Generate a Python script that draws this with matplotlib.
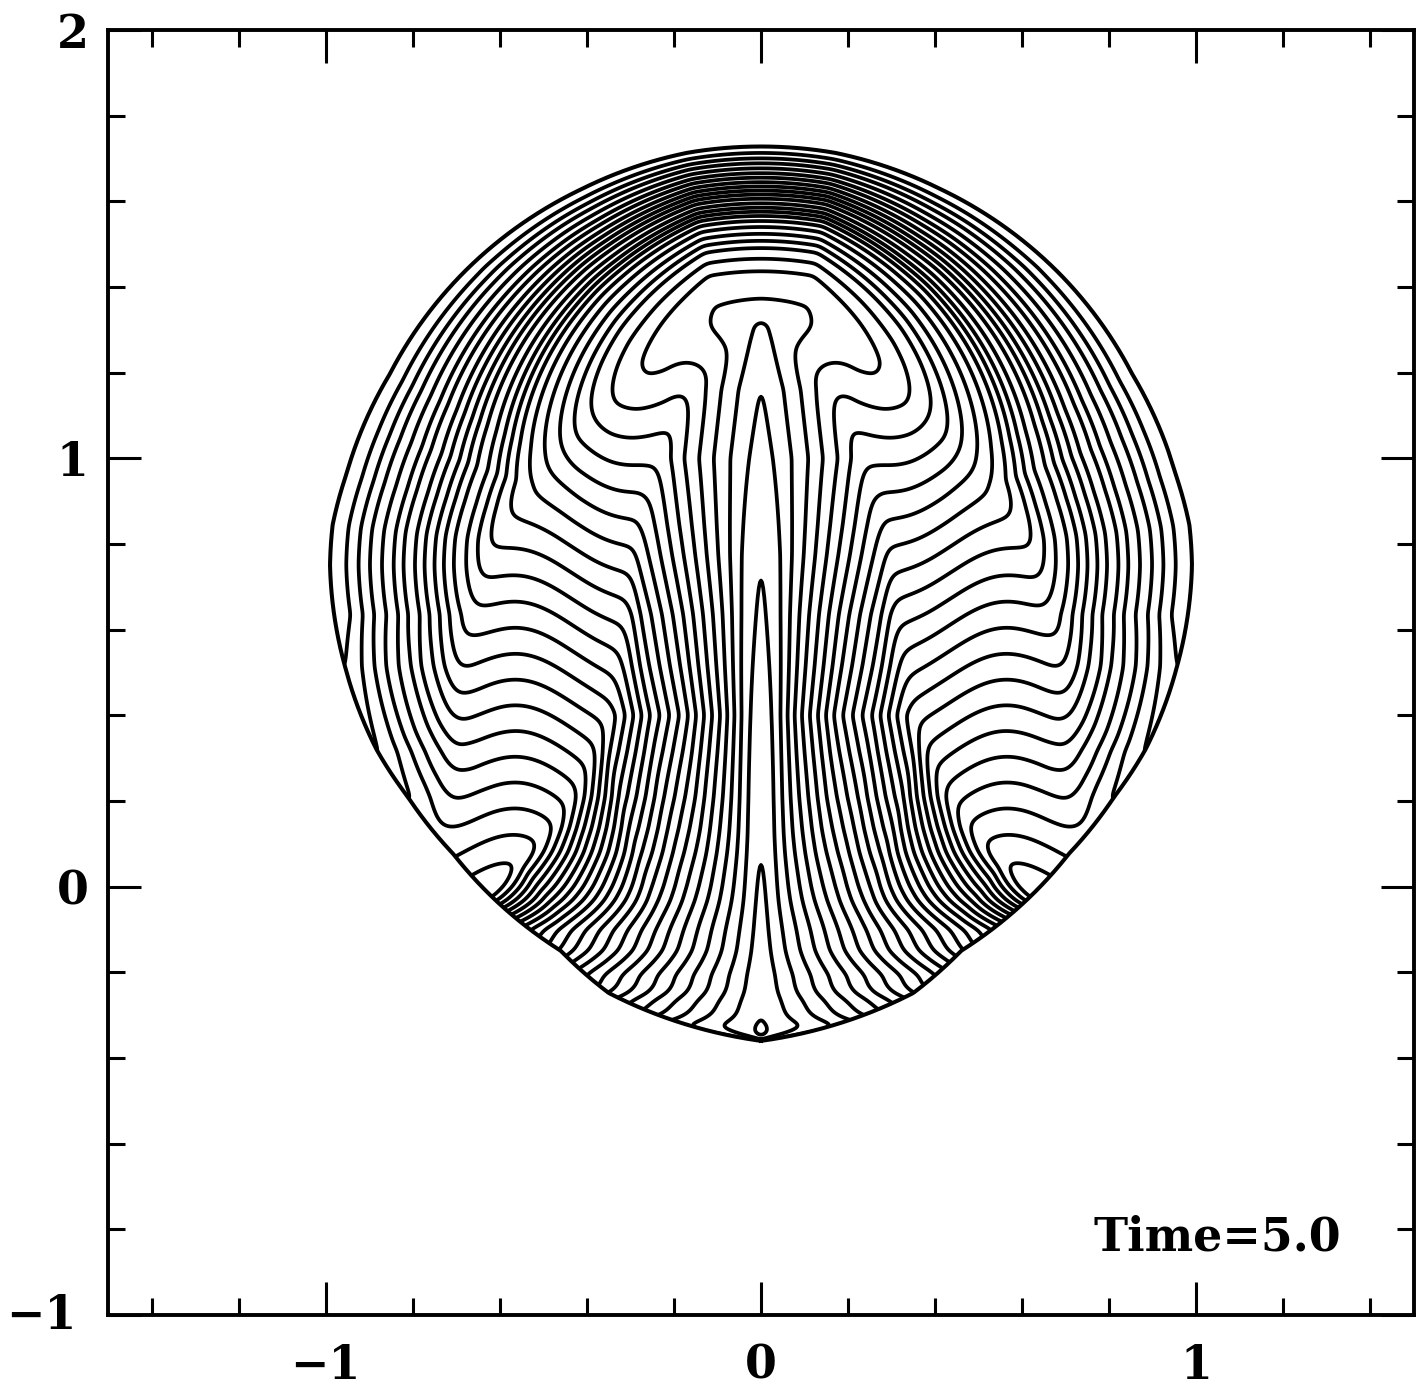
import numpy as np
import matplotlib.pyplot as plt
import matplotlib.transforms as mtrans
from matplotlib.path import Path
from matplotlib.patches import PathPatch

# outline of the blob, polar about (0, centre_y): angle (deg) and radius
outline_theta = [-90, -83.3, -70.6, -62.8, -43.4, -33.4, -25.7, -13.8, 0.3,
                 5.8, 12.9, 27.9, 45.0, 65.0, 80, 90]
outline_r = [1.105, 1.087, 1.053, 1.006, 0.973, 0.972, 0.980, 0.983, 0.990,
             0.989, 0.977, 0.965, 0.970, 0.975, 0.983, 0.983]
centre_y = 0.745

# heights where contours 1..28 cross the axis x = 0
axis_y = [-0.30, 0.12, 0.775, 1.16, 1.314, 1.398, 1.443, 1.468, 1.494, 1.508,
          1.525, 1.541, 1.555, 1.567, 1.576, 1.585, 1.595, 1.607, 1.616, 1.625,
          1.635, 1.644, 1.656, 1.665, 1.677, 1.689, 1.700, 1.712]
# |x| where contours 1..28 end on the lower rim
rim_x = [0.057, 0.126, 0.17, 0.204, 0.234, 0.268, 0.303, 0.33, 0.349, 0.372,
         0.401, 0.418, 0.433, 0.448, 0.463, 0.486, 0.509, 0.53, 0.56, 0.585,
         0.61, 0.642, 0.68, 0.716, 0.76, 0.812, 0.881, 0.956]
# height of the turned-in foot of the lobes, contours 5..28
lobe_y = [1.36, 1.27, 1.21, 1.15, 1.09, 1.03, 0.97, 0.91, 0.85, 0.79, 0.73,
          0.67, 0.61, 0.55, 0.49, 0.43, 0.37, 0.31, 0.25, 0.19, 0.13, 0.07,
          0.01, -0.05]
# share of the stem contours met going out from the axis (u = |x| / half width)
row_u = [0, 0.033, 0.1, 0.19, 0.28, 0.4, 0.55, 0.8, 1.0, 2.0]
row_heights = [-0.1, 0.4, 1.0]
row_q = [[0, 0.033, 0.1, 0.19, 0.28, 0.4, 0.55, 0.8, 1.0, 2.0],
         [0, 0.028, 0.18, 0.36, 0.51, 0.75, 1.2, 2.0, 3.0, 6.0],
         [0, 0.02, 0.08, 0.18, 0.30, 0.6, 1.2, 2.0, 3.0, 6.0]]
# spacing of the arcs at the side relative to the top
arc_theta = [-90, 20, 60, 80, 90]
arc_stretch = [2.3, 2.3, 1.4, 1.0, 1.0]
# ripple along the turned-in feet
wave_amp, wave_len, wave_x0 = 0.05, 0.5, 0.31

n_top = len(axis_y) + 1
k_all = np.arange(1, n_top)

# outline points (right half, bottom to top)
t = np.radians(np.linspace(-90, 90, 721))
r = np.interp(np.degrees(t), outline_theta, outline_r)
bx = r * np.cos(t)
by = centre_y + r * np.sin(t)
top_y = by[-1]

spine_ys = [by[0]] + axis_y[:5] + [1.36, 1.5]
spine_k = [0.6, 1, 2, 3, 4, 5, 7, 40]
low = t <= 0
rim_y = list(np.interp(rim_x, bx[low], by[low]))
rim_ys = [by[0]] + rim_y + [rim_y[-1] + 0.12]
rim_k = [0.6] + list(k_all) + [n_top]

# depth of the arcs below the outline on the axis, contours 28..5
d_k = [1 - (a - centre_y) / (top_y - centre_y) for a in axis_y[4:]][::-1]
arc_d = [0] + d_k + [1.0, 3.0]
arc_k = [n_top] + list(k_all[4:][::-1]) + [-1.8, -25]

foot_ys = [-0.6] + lobe_y[::-1]
foot_k = [60] + list(k_all[4:][::-1])


def smax(a, b, e):
    return 0.5 * (a + b + np.sqrt((a - b) ** 2 + e * e))


def smin(a, b, e):
    return 0.5 * (a + b - np.sqrt((a - b) ** 2 + e * e))


xs = np.linspace(-1.08, 1.08, 865)
ys = np.linspace(-0.42, 1.78, 881)
X, Y = np.meshgrid(xs, ys)
AX = np.abs(X)

kb = np.interp(Y, rim_ys, rim_k)

# stems
w = np.interp(Y, by, bx)
u = AX / w
qr = [np.interp(u, row_u, q) for q in row_q]
a = np.interp(Y, row_heights, [0, 1, 2])
q = np.where(a < 1, (1 - a) * qr[0] + a * qr[1], (2 - a) * qr[1] + (a - 1) * qr[2])
fc = np.interp(Y, spine_ys, spine_k)
stem = fc + np.maximum(kb - fc, 2.0) * q

# arcs following the outline
th = np.degrees(np.arctan2(Y - centre_y, AX))
rho = np.hypot(AX, Y - centre_y) / np.interp(th, outline_theta, outline_r)
depth = (1 - rho) / np.interp(th, arc_theta, arc_stretch)
arcs = np.interp(depth, arc_d, arc_k) - (n_top - kb)

# turned-in feet of the lobes, with a ripple
env = np.clip((AX - 0.12) / 0.1, 0, 1) * np.clip((0.9 - AX) / 0.1, 0, 1)
yw = Y + wave_amp * np.cos(2 * np.pi * (AX - wave_x0) / wave_len) * env
feet = np.interp(yw, foot_ys, foot_k)
feet = np.where(yw > lobe_y[0], 5 - (yw - lobe_y[0]) * 20, feet)

F = smin(smax(arcs, feet, 1.4), stem, 1.0)

# light smoothing
ker = np.exp(-0.5 * (np.arange(-9, 10) / 3.0) ** 2)
ker /= ker.sum()
F = np.apply_along_axis(lambda m: np.convolve(m, ker, mode='same'), 0, F)
F = np.apply_along_axis(lambda m: np.convolve(m, ker, mode='same'), 1, F)

fig = plt.figure(figsize=(14.26, 13.90), dpi=100)
ax = fig.add_axes([108 / 1426, 75 / 1390, 1306 / 1426, 1285 / 1390])

ox = np.concatenate([bx, -bx[::-1]])
oy = np.concatenate([by, by[::-1]])
clip = PathPatch(Path(np.column_stack([ox, oy])), transform=ax.transData,
                 facecolor='none', edgecolor='none')
ax.add_patch(clip)
cs = ax.contour(X, Y, F, levels=k_all, colors='k', linewidths=2.7,
                linestyles='solid')
cs.set_clip_path(clip)
ax.plot(ox, oy, color='k', lw=2.9)

ax.set_xlim(-1.5, 1.5)
ax.set_ylim(-1, 2)
font = dict(family='DejaVu Serif', weight='bold', size=33)
ax.set_xticks([-1, 0, 1])
ax.set_xticklabels(['\u22121', '0', '1'], **font)
ax.set_yticks([-1, 0, 1, 2])
ax.set_yticklabels(['\u22121', '0', '1', '2'], **font)
ax.set_xticks(np.arange(-1.4, 1.41, 0.2), minor=True)
ax.set_yticks(np.arange(-0.8, 1.81, 0.2), minor=True)
ax.tick_params(which='both', direction='in', top=True, right=True, width=2.2)
ax.tick_params(which='major', length=24, pad=14)
ax.tick_params(which='minor', length=12)
ax.tick_params(axis='x', which='major', pad=20)
for s in ax.spines.values():
    s.set_linewidth(2.8)
lab = ax.get_yticklabels()[0]
lab.set_transform(lab.get_transform() +
                  mtrans.ScaledTranslation(-9 / 72, 3 / 72, fig.dpi_scale_trans))

ax.text(1.333, -0.85, 'Time=5.0', ha='right', va='baseline', **font)

fig.savefig('out.png', dpi=100)
